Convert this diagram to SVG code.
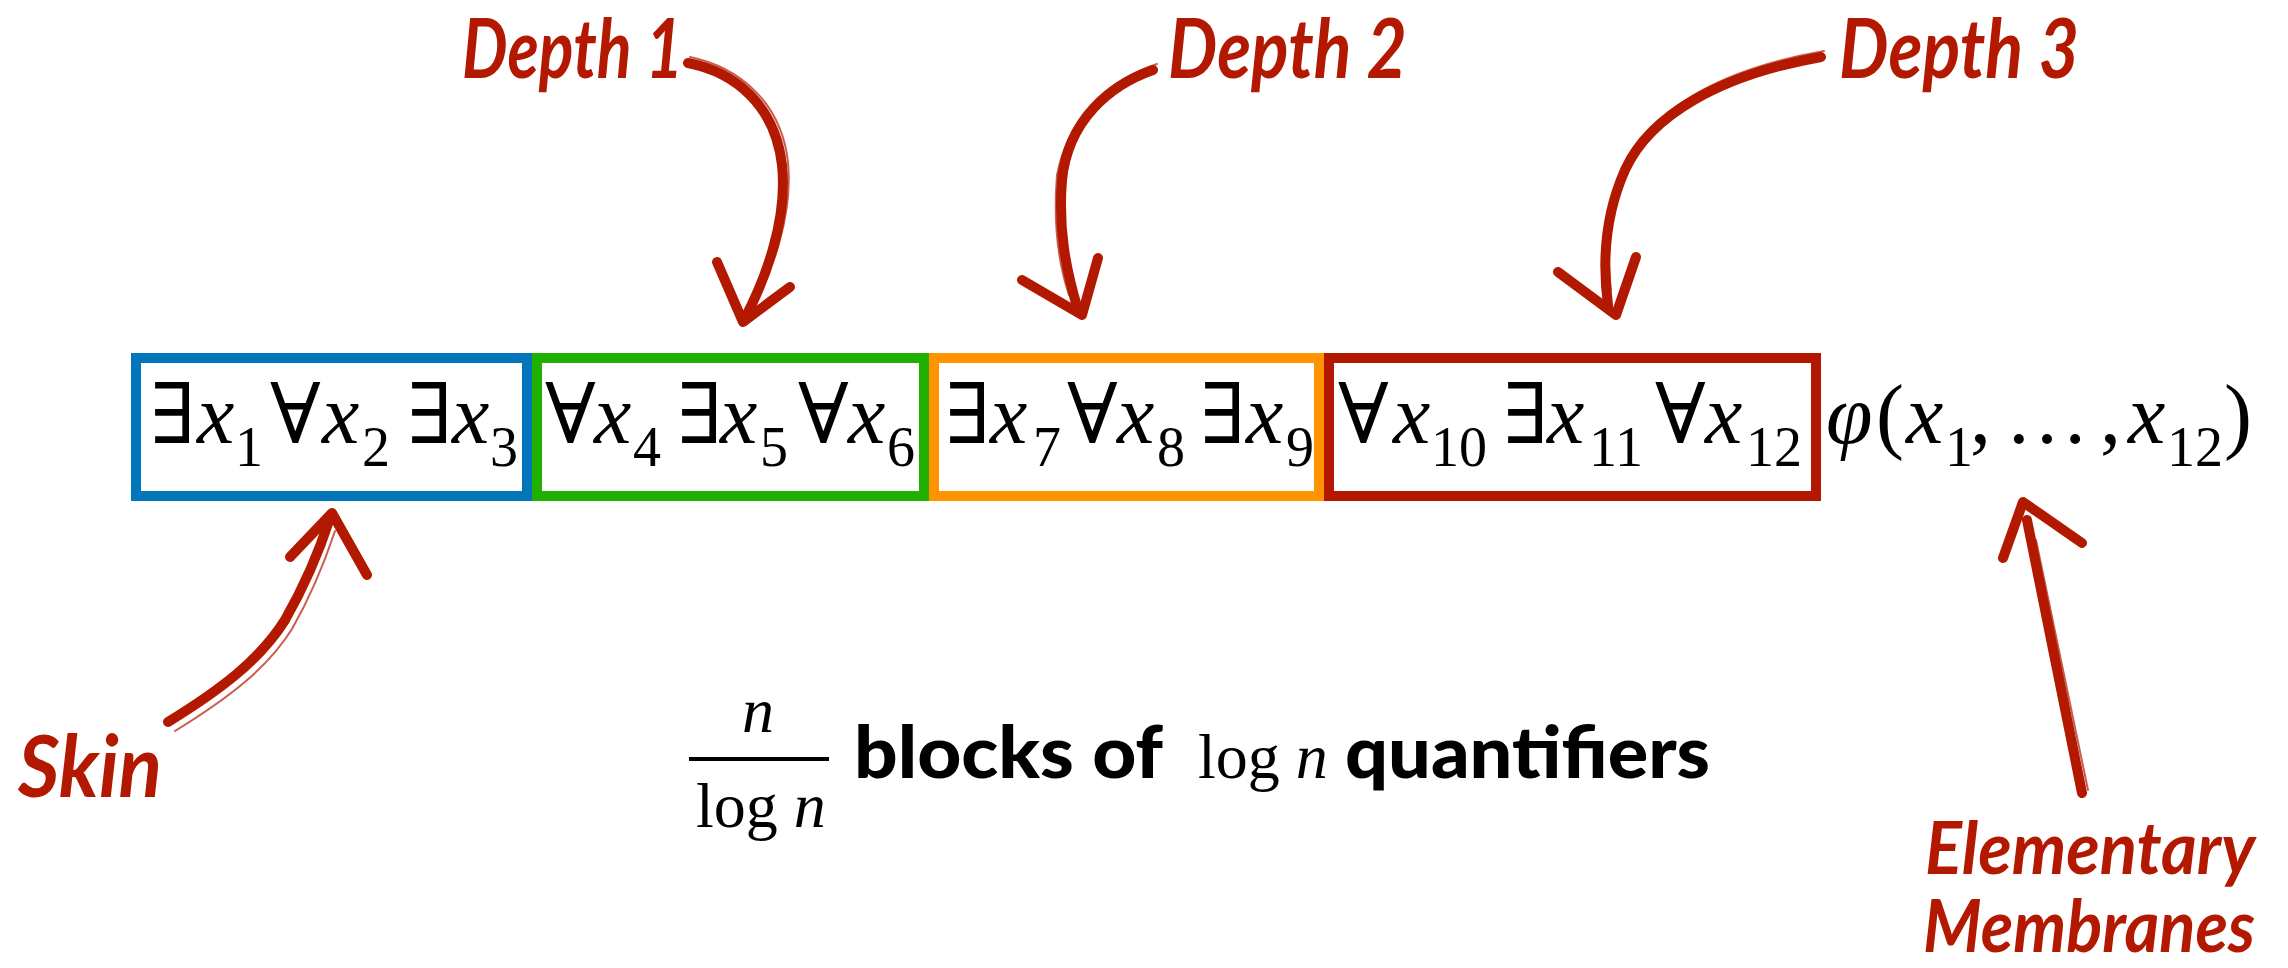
<svg xmlns="http://www.w3.org/2000/svg" width="2288" height="968" viewBox="0 0 2288 968">
<defs>
<style>
.box{fill:none;stroke-width:10}
.m{font-family:"Liberation Serif","DejaVu Serif",serif;font-size:84px;fill:#000}
.i{font-style:italic}
.s{font-family:"Liberation Serif","DejaVu Serif",serif;font-size:56px;fill:#000}
.hand{font-family:Lato,"Liberation Sans",sans-serif;font-style:italic;font-weight:700;fill:#b31800}
.bold{font-family:Lato,"Liberation Sans",sans-serif;font-weight:900;font-size:72px;fill:#000}
.f{font-family:"Liberation Serif","DejaVu Serif",serif;font-size:64px;fill:#000}
.brush{fill:none;stroke:#b31800;stroke-linecap:round;stroke-linejoin:round}
.thick{stroke-width:10}
.thin{stroke-width:2;opacity:0.7}
</style>
</defs>
<rect width="2288" height="968" fill="#fff"/>

<g id="block1">
<rect class="box" x="136" y="358" width="391" height="138" stroke="#0375bb"/>
<text class="m" x="150" y="443">∃</text><text class="m i" x="197" y="443">x</text><text class="s" x="235" y="466">1</text>
<text class="m" x="270" y="443">∀</text><text class="m i" x="322" y="443">x</text><text class="s" x="362" y="466">2</text>
<text class="m" x="407" y="443">∃</text><text class="m i" x="452" y="443">x</text><text class="s" x="490" y="466">3</text>
</g>
<g id="block2">
<rect class="box" x="537" y="358" width="387" height="138" stroke="#20b000"/>
<text class="m" x="545" y="443">∀</text><text class="m i" x="594" y="443">x</text><text class="s" x="633" y="466">4</text>
<text class="m" x="677" y="443">∃</text><text class="m i" x="720" y="443">x</text><text class="s" x="760" y="466">5</text>
<text class="m" x="798" y="443">∀</text><text class="m i" x="848" y="443">x</text><text class="s" x="887" y="466">6</text>
</g>
<g id="block3">
<rect class="box" x="934" y="358" width="385" height="138" stroke="#ff9300"/>
<text class="m" x="945" y="443">∃</text><text class="m i" x="990" y="443">x</text><text class="s" x="1033" y="466">7</text>
<text class="m" x="1067" y="443">∀</text><text class="m i" x="1117" y="443">x</text><text class="s" x="1157" y="466">8</text>
<text class="m" x="1200" y="443">∃</text><text class="m i" x="1246" y="443">x</text><text class="s" x="1286" y="466">9</text>
</g>
<g id="block4">
<rect class="box" x="1329" y="358" width="487" height="138" stroke="#b31800"/>
<text class="m" x="1338" y="443">∀</text><text class="m i" x="1393" y="443">x</text><text class="s" x="1431" y="466">10</text>
<text class="m" x="1503" y="443">∃</text><text class="m i" x="1547" y="443">x</text><text class="s" x="1589" y="466">11</text>
<text class="m" x="1655" y="443">∀</text><text class="m i" x="1705" y="443">x</text><text class="s" x="1746" y="466">12</text>
</g>
<g id="matrix">
<text class="m i" x="1826" y="443">φ</text><text class="m" x="1876" y="443">(</text><text class="m i" x="1906" y="443">x</text><text class="s" x="1945" y="466">1</text>
<text class="m" x="1970" y="443">,</text><text class="m" x="2005" y="443" font-size="90">…</text><text class="m" x="2100" y="443">,</text>
<text class="m i" x="2128" y="443">x</text><text class="s" x="2167" y="466">12</text><text class="m" x="2224" y="443">)</text>
</g>

<g id="label-depth1"><text class="hand" x="462" y="78" font-size="82" textLength="221" lengthAdjust="spacingAndGlyphs">Depth 1</text></g>
<g id="label-depth2"><text class="hand" x="1168" y="78" font-size="82" textLength="239" lengthAdjust="spacingAndGlyphs">Depth 2</text></g>
<g id="label-depth3"><text class="hand" x="1839" y="78" font-size="82" textLength="240" lengthAdjust="spacingAndGlyphs">Depth 3</text></g>
<g id="label-skin"><text class="hand" x="18" y="797" font-size="86" textLength="144" lengthAdjust="spacingAndGlyphs">Skin</text></g>
<g id="label-membranes">
<text class="hand" x="1925" y="874" font-size="72" textLength="330" lengthAdjust="spacingAndGlyphs">Elementary</text>
<text class="hand" x="1923" y="952" font-size="72" textLength="332" lengthAdjust="spacingAndGlyphs">Membranes</text>
</g>

<g id="caption">
<text class="f i" x="758" y="732" text-anchor="middle">n</text>
<rect x="689" y="757" width="140" height="4" fill="#000"/>
<text class="f" x="696" y="827">log <tspan class="i">n</tspan></text>
<text class="bold" x="854" y="778" textLength="309" lengthAdjust="spacingAndGlyphs">blocks of</text>
<text class="f" x="1198" y="778">log <tspan class="i">n</tspan></text>
<text class="bold" x="1345" y="778" textLength="365" lengthAdjust="spacingAndGlyphs">quantifiers</text>
</g>

<g id="connectors">
<path class="brush thick" d="M688,63 C735,72 775,105 782,165 C788,220 765,280 745,318"/>
<path class="brush thin" d="M690,57 C738,67 781,101 788,162 C793,215 773,270 753,305"/>
<path class="brush thick" d="M717,262 L743,322 L790,287"/>

<path class="brush thick" d="M1153,70 C1110,85 1068,120 1062,180 C1058,230 1066,270 1078,310"/>
<path class="brush thin" d="M1157,64 C1112,79 1069,114 1057,175 C1053,225 1059,265 1069,295"/>
<path class="brush thick" d="M1022,280 L1082,315 L1098,258"/>

<path class="brush thick" d="M1821,57 C1720,75 1650,115 1625,170 C1605,215 1602,260 1608,305"/>
<path class="brush thin" d="M1824,51 C1722,69 1651,109 1627,164 C1608,209 1606,250 1611,290"/>
<path class="brush thick" d="M1558,272 L1616,315 L1636,257"/>

<path class="brush thick" d="M168,722 C220,690 260,660 285,620 C305,585 318,555 330,518"/>
<path class="brush thin" d="M175,731 C227,699 267,669 292,629 C312,594 324,564 335,531"/>
<path class="brush thick" d="M290,557 L332,513 L367,575"/>

<path class="brush thick" d="M2082,793 L2027,520"/>
<path class="brush thin" d="M2088,790 L2036,540"/>
<path class="brush thick" d="M2003,558 L2023,502 L2082,543"/>
</g>
</svg>
